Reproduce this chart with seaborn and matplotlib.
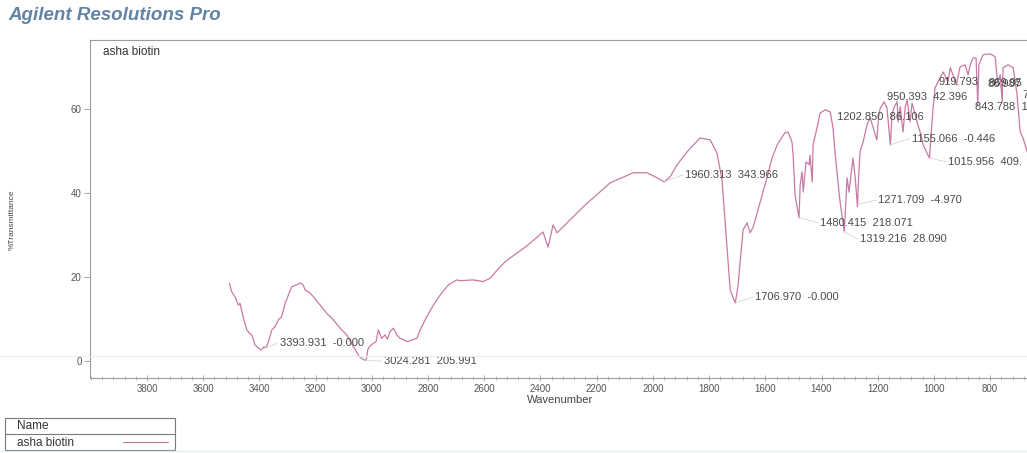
import matplotlib
matplotlib.use("Agg")
import numpy as np
import pandas as pd
import matplotlib.pyplot as plt
import seaborn as sns
from matplotlib.ticker import FixedLocator, MultipleLocator
from matplotlib.lines import Line2D
from matplotlib.patches import Rectangle

# FTIR spectrum of the sample (wavenumber in cm-1, %T)
wavenumber = [
    3507, 3499, 3487, 3475, 3469, 3457, 3445, 3436, 3427, 3416, 3394, 3385, 3376,
    3368, 3356, 3344, 3333, 3321, 3309, 3297, 3285, 3267, 3255, 3244, 3238, 3226,
    3208, 3184, 3160, 3137, 3113, 3089, 3066, 3044, 3024, 3019, 3014, 3006, 2995,
    2985, 2977, 2965, 2953, 2945, 2935, 2923, 2911, 2900, 2885, 2874, 2858, 2840,
    2828, 2805, 2781, 2757, 2728, 2698, 2686, 2640, 2604, 2579, 2544, 2519, 2450,
    2391, 2373, 2355, 2341, 2323, 2248, 2152, 2070, 2021, 1985, 1960, 1939, 1914,
    1878, 1832, 1796, 1772, 1754, 1725, 1707, 1698, 1679, 1665, 1654, 1643, 1594,
    1576, 1558, 1547, 1530, 1519, 1505, 1501, 1494, 1480, 1476, 1469, 1465, 1455,
    1444, 1441, 1433, 1430, 1416, 1405, 1387, 1369, 1359, 1352, 1345, 1334, 1319,
    1314, 1309, 1302, 1291, 1288, 1280, 1272, 1268, 1263, 1252, 1238, 1227, 1216,
    1203, 1197, 1191, 1177, 1167, 1155, 1149, 1143, 1131, 1127, 1120, 1110, 1102,
    1095, 1085, 1078, 1067, 1060, 1049, 1038, 1016, 1012, 1004, 996, 978, 967, 950,
    942, 932, 920, 907, 889, 878, 871, 861, 850, 844, 840, 825, 800, 782, 775, 772,
    764, 757, 754, 736, 718, 704, 693, 683, 668, 655,
]
transmittance = [
    18.5, 16.5, 15.3, 13.3, 13.7, 10.2, 7.4, 6.6, 6.2, 3.8, 2.6, 3.3, 3.3,
    4.6, 7.4, 8.2, 9.8, 10.5, 13.7, 15.7, 17.7, 18.1, 18.6, 18.1, 16.9, 16.5,
    15.3, 13.3, 11.3, 9.8, 7.8, 6.2, 3.4, 1.0, 0.1, 0.6, 2.8, 3.6, 4.2,
    4.6, 7.4, 5.4, 6.2, 5.2, 7.0, 7.8, 6.2, 5.4, 5.0, 4.6, 5.0, 5.4,
    7.4, 10.5, 13.3, 15.7, 18.1, 19.3, 19.1, 19.3, 18.9, 19.7, 22.4, 24.0, 27.3,
    30.7, 27.1, 32.4, 30.5, 31.7, 36.7, 42.4, 44.8, 44.8, 43.6, 42.6, 43.8, 46.7,
    49.8, 53.1, 52.6, 49.5, 43.1, 16.9, 13.8, 17.4, 31.2, 32.9, 30.5, 31.9, 43.6,
    48.3, 51.4, 52.6, 54.3, 54.5, 52.1, 49.0, 39.5, 34.0, 41.9, 45.0, 40.2, 47.4,
    46.7, 49.0, 42.6, 51.4, 55.5, 59.0, 59.8, 59.3, 55.5, 49.8, 45.0, 37.9, 30.7,
    37.1, 43.6, 40.2, 46.7, 48.3, 43.6, 36.7, 43.6, 49.8, 52.1, 56.2, 57.9, 55.5,
    52.6, 58.1, 60.2, 61.7, 60.2, 51.4, 58.6, 60.2, 61.7, 56.9, 60.5, 54.5, 60.5,
    62.1, 56.9, 61.4, 58.6, 56.9, 54.5, 51.4, 48.3, 52.1, 59.3, 65.0, 67.4, 68.8, 66.4,
    69.8, 68.1, 65.7, 70.0, 70.5, 68.1, 70.5, 72.1, 72.1, 61.0, 70.5, 72.9, 73.1, 72.4, 67.4, 66.4,
    68.1, 61.7, 69.8, 70.5, 69.8, 63.3, 54.5, 53.1, 49.8, 47.0,
]

# Peak-table annotations: text, label anchor (wavenumber, %T), marked peak
peak_text = [
    "3393.931  -0.000", "3024.281  205.991", "1960.313  343.966",
    "1706.970  -0.000", "1480.415  218.071", "1319.216  28.090",
    "1271.709  -4.970", "1202.850  86.106", "1155.066  -0.446",
    "1015.956  409.", "950.393  42.396", "919.793", "86.987", "869.95",
    "843.788  1", "7",
]
peak_label_x = [3327, 2957, 1885, 1636, 1405, 1263, 1199, 1344, 1078,
                949, 1167, 985, 811, 806, 853, 686]
peak_label_y = [4.3, 0.0, 44.3, 15.2, 32.9, 29.0, 38.3, 58.1, 52.9,
                47.4, 62.9, 66.4, 65.9, 66.2, 60.5, 63.3]
leader_peaks = [3393.931, 3024.281, 1960.313, 1706.970, 1480.415,
                1319.216, 1271.709, None, 1155.066, 1015.956,
                None, None, None, None, 843.788, None]

x_ticks = list(range(800, 3801, 200))
y_ticks = [0, 20, 40, 60]

df = pd.DataFrame({"Wavenumber": wavenumber, "%Transmittance": transmittance})

sns.set_theme(style="white")
plt.rcParams["font.family"] = ["Liberation Sans", "DejaVu Sans"]

W, H = 1027, 453
fig = plt.figure(figsize=(W / 100, H / 100), dpi=100)
fig.patch.set_facecolor("white")
ax = fig.add_axes([90 / W, 1 - 378 / H, 967 / W, 338 / H])

line_color = "#c97aa2"
sns.lineplot(data=df, x="Wavenumber", y="%Transmittance", sort=False,
             estimator=None, color=line_color, linewidth=0.9, ax=ax)

ax.set_xlim(4003, 562)
ax.set_ylim(-4.05, 76.4)
ax.set_xlabel("")
ax.set_ylabel("")

spine_c = "#9c9c9c"
for side in ["left", "top", "bottom"]:
    ax.spines[side].set_color(spine_c)
    ax.spines[side].set_linewidth(0.8)
ax.spines["right"].set_visible(False)

ax.xaxis.set_major_locator(FixedLocator(x_ticks))
ax.xaxis.set_minor_locator(MultipleLocator(40))
ax.yaxis.set_major_locator(FixedLocator(y_ticks))
ax.tick_params(axis="x", which="major", direction="inout", length=5, width=0.6,
               color="#999999", labelsize=7, labelcolor="#555555", pad=2,
               bottom=True)
ax.tick_params(axis="x", which="minor", direction="inout", length=3, width=0.5,
               color="#aaaaaa", bottom=True)
ax.tick_params(axis="y", which="major", direction="out", length=4, width=0.6,
               color="#999999", labelsize=7, labelcolor="#555555", pad=2,
               left=True)
ax.grid(False)

# Peak annotations with faint leader lines
for txt, lx, ly, pk in zip(peak_text, peak_label_x, peak_label_y, leader_peaks):
    ax.text(lx, ly, txt, fontsize=8, color="#4a4a4a", ha="left", va="center",
            clip_on=False)
    if pk is not None:
        py = np.interp(pk, wavenumber[::-1], transmittance[::-1])
        ax.plot([pk, lx + 8], [py, ly], color="#d4d4d4", linewidth=0.6)

ax.text(0.0134, 0.964, "asha biotin", transform=ax.transAxes, fontsize=8.5,
        color="#333333", ha="left", va="center")

# Header, axis titles
fig.text(8 / W, 1 - 15 / H, "Agilent Resolutions Pro", fontsize=13.5,
         fontweight="bold", fontstyle="italic", color="#6383a3",
         ha="left", va="center")
fig.text(560 / W, 1 - 400 / H, "Wavenumber", fontsize=8, color="#444444",
         ha="center", va="center")
fig.text(12 / W, 1 - 220 / H, "%Transmittance", fontsize=6, color="#444444",
         rotation=90, ha="center", va="center")

# Faint rules across the page
fig.add_artist(Line2D([0, 1], [1 - 356 / H] * 2, transform=fig.transFigure,
                      color="#ececec", linewidth=0.8))
fig.add_artist(Line2D([0, 1], [1 - 451 / H] * 2, transform=fig.transFigure,
                      color="#e2f2f2", linewidth=1.0))

# Legend table
fig.add_artist(Rectangle((5 / W, 1 - 450 / H), 170 / W, 32 / H,
                         transform=fig.transFigure, fill=False,
                         edgecolor="#7a7a7a", linewidth=0.8))
fig.add_artist(Line2D([5 / W, 175 / W], [1 - 434 / H] * 2,
                      transform=fig.transFigure, color="#7a7a7a", linewidth=0.8))
fig.text(17 / W, 1 - 426 / H, "Name", fontsize=8.5, color="#333333",
         ha="left", va="center")
fig.text(17 / W, 1 - 442.5 / H, "asha biotin", fontsize=8.5, color="#333333",
         ha="left", va="center")
fig.add_artist(Line2D([123 / W, 168 / W], [1 - 442 / H] * 2,
                      transform=fig.transFigure, color=line_color, linewidth=0.8))

fig.savefig("out.png", dpi=100)
